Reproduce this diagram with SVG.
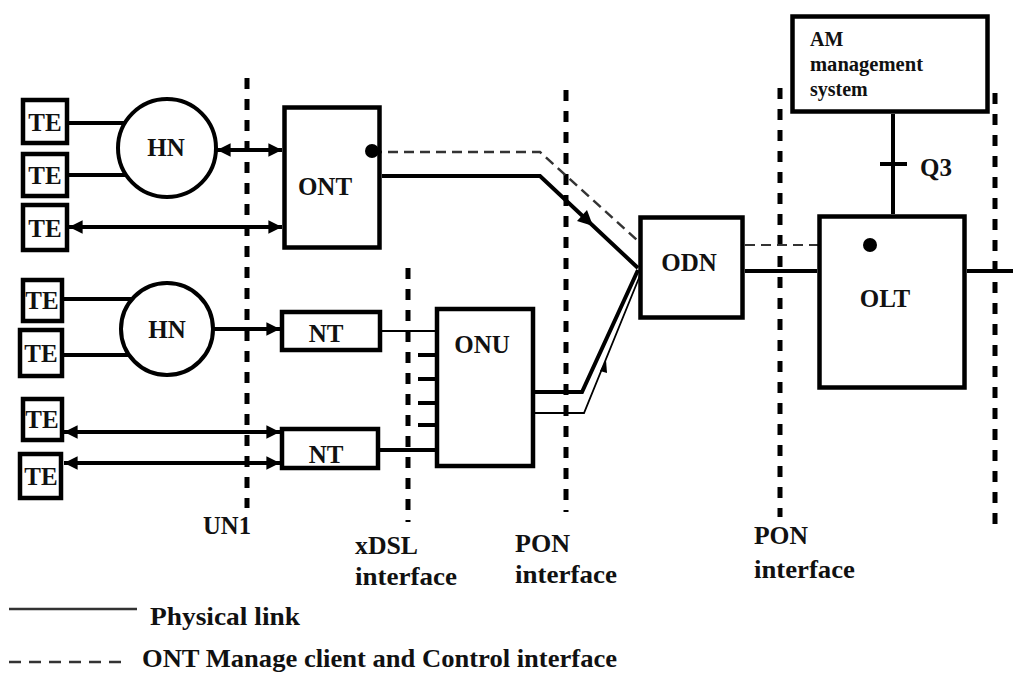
<svg xmlns="http://www.w3.org/2000/svg" width="1013" height="673" viewBox="0 0 1013 673" font-family="'Liberation Serif', 'DejaVu Serif', serif">
<style>
.box{fill:#fff;stroke:#000;stroke-width:4.5}
.t{font-family:'Liberation Serif','DejaVu Serif',serif;font-weight:700;font-size:25px;fill:#111}
.ts{font-family:'Liberation Serif','DejaVu Serif',serif;font-weight:700;font-size:20px;fill:#111}
.ln{fill:none;stroke:#000;stroke-width:4}
.thin{fill:none;stroke:#000;stroke-width:1.8}
.vd{fill:none;stroke:#000;stroke-width:5;stroke-dasharray:11 10}
.mg{fill:none;stroke:#333;stroke-width:2.5;stroke-dasharray:10 6}
</style>
<defs>
<marker id="ah" viewBox="0 0 10 10" refX="10" refY="5" markerWidth="4" markerHeight="3.4" orient="auto-start-reverse" markerUnits="strokeWidth">
<path d="M0,0 L10,5 L0,10 z" fill="#000"/>
</marker>
</defs>
<rect width="1013" height="673" fill="#fff"/>

<g id="interfaces">
<line class="vd" x1="247" y1="78" x2="247" y2="508"/>
<line class="vd" x1="408" y1="268" x2="408" y2="522"/>
<line class="vd" x1="566" y1="90" x2="566" y2="512"/>
<line class="vd" x1="780" y1="88" x2="780" y2="517"/>
<line class="vd" x1="995" y1="93" x2="995" y2="528"/>
</g>

<g id="connectors">
<line class="ln" x1="69" y1="123" x2="125" y2="123"/>
<line class="ln" x1="69" y1="175" x2="127" y2="175"/>
<line class="ln" x1="217" y1="150" x2="282" y2="150" marker-start="url(#ah)" marker-end="url(#ah)"/>
<line class="ln" x1="69" y1="227" x2="282" y2="227" marker-start="url(#ah)" marker-end="url(#ah)"/>
<line class="ln" x1="64" y1="299" x2="132" y2="299"/>
<line class="ln" x1="64" y1="355" x2="129" y2="355"/>
<line class="ln" x1="213" y1="329" x2="280" y2="329" stroke-width="3.5" marker-end="url(#ah)"/>
<line class="ln" x1="64" y1="432" x2="280" y2="432" marker-start="url(#ah)" marker-end="url(#ah)"/>
<line class="ln" x1="64" y1="463" x2="280" y2="463" marker-start="url(#ah)" marker-end="url(#ah)"/>
<line class="thin" x1="382" y1="331" x2="437" y2="331"/>
<line class="ln" x1="380" y1="450" x2="437" y2="450"/>
<line class="ln" x1="418" y1="355" x2="437" y2="355" stroke-width="5"/>
<line class="ln" x1="418" y1="379" x2="437" y2="379" stroke-width="5"/>
<line class="ln" x1="418" y1="403" x2="437" y2="403" stroke-width="5"/>
<line class="ln" x1="418" y1="425" x2="437" y2="425" stroke-width="5"/>
<polyline class="mg" points="372,152 540,152 637,240"/>
<polyline class="ln" stroke-width="5" points="382,176 540,176 638,268"/>
<polygon points="593,226 577,221 587,210" fill="#000"/>
<line x1="492" y1="392" x2="535" y2="392" stroke="#000" stroke-width="5" stroke-dasharray="15 10"/>
<polyline class="ln" stroke-width="5" points="535,392 582,392 638,270"/>
<polyline class="thin" points="535,413 584,413 641,273"/>
<polygon points="606,360 600,371 607,373" fill="#000"/>
<line x1="745" y1="245" x2="865" y2="245" stroke="#333" stroke-width="2" stroke-dasharray="10 6"/>
<line class="ln" x1="745" y1="271" x2="817" y2="271" stroke-width="6"/>
<line class="ln" x1="967" y1="271" x2="1013" y2="271"/>
<line class="ln" x1="893" y1="114" x2="893" y2="214" stroke-width="5"/>
<line class="ln" x1="880" y1="164" x2="907" y2="164" stroke-width="5"/>
</g>

<g id="te1"><rect class="box" x="23" y="100" width="44" height="43"/><text class="t" x="45" y="131" text-anchor="middle">TE</text></g>
<g id="te2"><rect class="box" x="23" y="154" width="44" height="42"/><text class="t" x="45" y="184" text-anchor="middle">TE</text></g>
<g id="te3"><rect class="box" x="23" y="205" width="44" height="45"/><text class="t" x="45" y="237" text-anchor="middle">TE</text></g>
<g id="te4"><rect class="box" x="23" y="280" width="39" height="41"/><text class="t" x="42" y="309" text-anchor="middle">TE</text></g>
<g id="te5"><rect class="box" x="20" y="330" width="42" height="46"/><text class="t" x="41" y="362" text-anchor="middle">TE</text></g>
<g id="te6"><rect class="box" x="23" y="399" width="39" height="41"/><text class="t" x="42" y="428" text-anchor="middle">TE</text></g>
<g id="te7"><rect class="box" x="20" y="454" width="41" height="44"/><text class="t" x="41" y="485" text-anchor="middle">TE</text></g>

<g id="hn1"><circle cx="167" cy="148" r="49" fill="#fff" stroke="#000" stroke-width="4"/><text class="t" x="166" y="156" text-anchor="middle" font-size="26">HN</text></g>
<g id="hn2"><circle cx="167" cy="329" r="46" fill="#fff" stroke="#000" stroke-width="4"/><text class="t" x="167" y="338" text-anchor="middle" font-size="26">HN</text></g>

<g id="ont"><rect class="box" x="284.5" y="107.5" width="95" height="140" stroke-width="5"/><text class="t" x="325" y="195" text-anchor="middle">ONT</text><circle cx="372" cy="151" r="7" fill="#000"/></g>
<g id="nt1"><rect class="box" x="282" y="312" width="98" height="38"/><text class="t" x="326" y="342" text-anchor="middle">NT</text></g>
<g id="nt2"><rect class="box" x="282" y="429" width="96" height="39"/><text class="t" x="326" y="463" text-anchor="middle">NT</text></g>
<g id="onu"><rect class="box" x="437" y="309" width="96" height="157"/><text class="t" x="482" y="353" text-anchor="middle">ONU</text></g>
<g id="odn"><rect class="box" x="640.5" y="217.5" width="102" height="100" stroke-width="5"/><text class="t" x="689" y="271" text-anchor="middle">ODN</text></g>
<g id="olt"><rect class="box" x="819.5" y="216.5" width="145" height="171" stroke-width="5"/><text class="t" x="885" y="307" text-anchor="middle">OLT</text><circle cx="870" cy="245" r="7" fill="#000"/></g>
<g id="am"><rect class="box" x="792.5" y="16.5" width="195" height="95" stroke-width="5"/>
<text class="ts" x="810" y="46">AM</text>
<text class="ts" x="810" y="71" textLength="113" lengthAdjust="spacingAndGlyphs">management</text>
<text class="ts" x="810" y="96">system</text></g>

<g id="labels">
<text class="t" x="920" y="176" font-size="26">Q3</text>
<text class="t" x="203" y="534" textLength="48" lengthAdjust="spacingAndGlyphs">UN1</text>
<text class="t" x="355" y="554" textLength="63" lengthAdjust="spacingAndGlyphs">xDSL</text>
<text class="t" x="355" y="585" textLength="102" lengthAdjust="spacingAndGlyphs">interface</text>
<text class="t" x="515" y="552" textLength="55" lengthAdjust="spacingAndGlyphs">PON</text>
<text class="t" x="515" y="583" textLength="102" lengthAdjust="spacingAndGlyphs">interface</text>
<text class="t" x="754" y="544" textLength="54" lengthAdjust="spacingAndGlyphs">PON</text>
<text class="t" x="754" y="578" textLength="101" lengthAdjust="spacingAndGlyphs">interface</text>
</g>

<g id="legend">
<line x1="9" y1="609" x2="137" y2="609" stroke="#333" stroke-width="2.5"/>
<text class="t" x="150" y="625" textLength="150" lengthAdjust="spacingAndGlyphs">Physical link</text>
<line x1="9" y1="662" x2="128" y2="662" stroke="#333" stroke-width="2.5" stroke-dasharray="12 8"/>
<text class="t" x="142" y="667" textLength="475" lengthAdjust="spacingAndGlyphs">ONT Manage client and Control interface</text>
</g>
</svg>
